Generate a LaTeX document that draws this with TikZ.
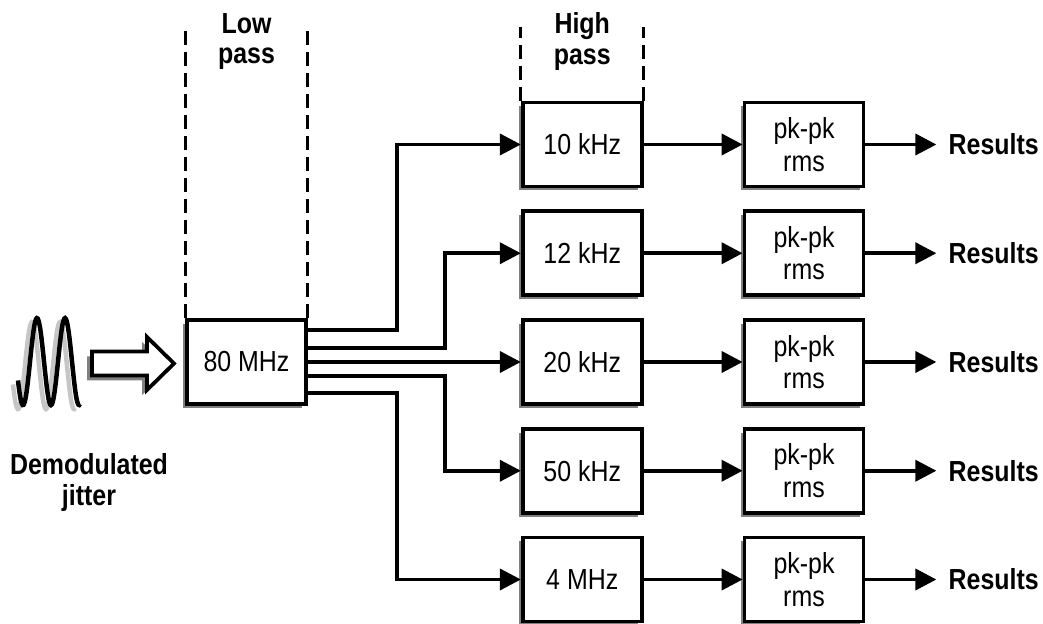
\documentclass[tikz,border=0pt]{standalone}
\usepackage{fontspec}
\setmainfont{Liberation Sans}[FakeStretch=0.86]
\usepackage{tikz}
\usetikzlibrary{positioning,arrows.meta,shadows}

\begin{document}
\begin{tikzpicture}[
	node distance=0.42cm,
	every node/.style={font=\fontsize{16.5}{18.5}\selectfont},
	box/.style={draw, line width=0.075cm, fill=white, minimum width=2.38cm, minimum height=1.68cm, align=center,
		drop shadow={shadow xshift=-0.08cm, shadow yshift=-0.08cm, fill=gray, opacity=1}},
	head/.style={font=\fontsize{16.5}{17.5}\selectfont\bfseries, align=center},
	arrow/.style={-{Triangle[length=0.42cm, width=0.42cm]}, line width=0.075cm},
	guide/.style={line width=0.06cm, dash pattern=on 0.28cm off 0.14cm}
	]
	\useasboundingbox (0,0) rectangle (20.86,-12.48);
	
	\coordinate (dashtop) at (0,-0.54);
	\coordinate (labrow) at (0,-0.83);
	
	\node[box] (lp) at (4.93,-7.24) {80 MHz};
	\node[box, right=4.26cm of lp] (hp3) {20 kHz};
	\node[box, above=of hp3] (hp2) {12 kHz};
	\node[box, above=of hp2] (hp1) {10 kHz};
	\node[box, below=of hp3] (hp4) {50 kHz};
	\node[box, below=of hp4] (hp5) {4 MHz};
	
	\node[box, right=1.98cm of hp1] (pk1) {pk-pk\\rms};
	\node[box, right=1.98cm of hp2] (pk2) {pk-pk\\rms};
	\node[box, right=1.98cm of hp3] (pk3) {pk-pk\\rms};
	\node[box, right=1.98cm of hp4] (pk4) {pk-pk\\rms};
	\node[box, right=1.98cm of hp5] (pk5) {pk-pk\\rms};
	
	\node[head, inner sep=0pt, right=1.66cm of pk1] (res1) {Results};
	\node[head, inner sep=0pt, right=1.66cm of pk2] (res2) {Results};
	\node[head, inner sep=0pt, right=1.66cm of pk3] (res3) {Results};
	\node[head, inner sep=0pt, right=1.66cm of pk4] (res4) {Results};
	\node[head, inner sep=0pt, right=1.66cm of pk5] (res5) {Results};
	
	% filter bands
	\node[head] (lplab) at (lp |- labrow) {Low\\pass};
	\node[head] (hplab) at (hp1 |- labrow) {High\\pass};
	\draw[guide] (lp.north west) -- (lp.north west |- dashtop);
	\draw[guide] (lp.north east) -- (lp.north east |- dashtop);
	\draw[guide] (hp1.north west) -- (hp1.north west |- dashtop);
	\draw[guide] (hp1.north east) -- (hp1.north east |- dashtop);
	
	% low pass to high pass
	\draw[arrow] ([yshift=0.64cm]lp.east) -- ++(1.78,0) |- (hp1);
	\draw[arrow] ([yshift=0.28cm]lp.east) -- ++(2.74,0) |- (hp2);
	\draw[arrow] (lp.east) -- (hp3);
	\draw[arrow] ([yshift=-0.28cm]lp.east) -- ++(2.74,0) |- (hp4);
	\draw[arrow] ([yshift=-0.62cm]lp.east) -- ++(1.78,0) |- (hp5);
	
	\draw[arrow] (hp1) -- (pk1);
	\draw[arrow] (hp2) -- (pk2);
	\draw[arrow] (hp3) -- (pk3);
	\draw[arrow] (hp4) -- (pk4);
	\draw[arrow] (hp5) -- (pk5);
	
	\draw[arrow, shorten >=0.24cm] (pk1) -- (res1);
	\draw[arrow, shorten >=0.24cm] (pk2) -- (res2);
	\draw[arrow, shorten >=0.24cm] (pk3) -- (res3);
	\draw[arrow, shorten >=0.24cm] (pk4) -- (res4);
	\draw[arrow, shorten >=0.24cm] (pk5) -- (res5);
	
	% input signal
	\draw[gray!45, line width=0.09cm] plot[domain=18:80, samples=80, smooth]
		({0.02*(\x-5)}, {-0.02*(365.5-43.5*sin(12.857*(\x-30)))});
	\draw[black, line width=0.09cm] plot[domain=18:80, samples=80, smooth]
		({0.02*\x}, {-0.02*(361.5-43.5*sin(12.857*(\x-30)))});
	\draw[line width=0.075cm, fill=white, drop shadow={shadow xshift=-0.1cm, shadow yshift=-0.1cm, fill=gray, opacity=1}]
		(1.84,-7.03) -- (2.94,-7.03) -- (2.94,-6.74) -- (3.48,-7.27) -- (2.94,-7.80)
		-- (2.94,-7.51) -- (1.84,-7.51) -- cycle;
	\node[head] (jitlab) at (1.78,-9.65) {Demodulated\\jitter};
	
\end{tikzpicture}
\end{document}
